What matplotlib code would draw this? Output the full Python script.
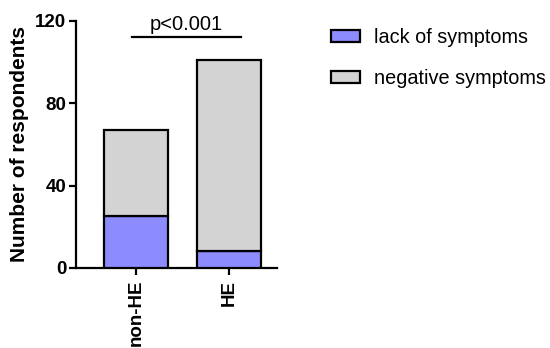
import matplotlib
matplotlib.use("Agg")
import matplotlib.pyplot as plt
from matplotlib.patches import Patch

plt.rcParams['font.family'] = ['Liberation Sans', 'DejaVu Sans']

categories = ["non-HE", "HE"]
lack = [25, 8]
negative = [42, 93]
series_labels = ["lack of symptoms", "negative symptoms"]
colors = ["#8C8CFF", "#D3D3D3"]

fig = plt.figure(figsize=(5.5, 3.48), dpi=100)
ax = fig.add_axes([0.138, 0.23, 0.366, 0.71])

x = list(range(len(categories)))
w = 0.688
ax.bar(x, lack, width=w, color=colors[0], edgecolor='black', linewidth=1.6, zorder=3)
ax.bar(x, negative, width=w, bottom=lack, color=colors[1], edgecolor='black', linewidth=1.6, zorder=3)

ax.set_xlim(-0.645, 1.516)
ax.set_ylim(0, 120)
ax.set_yticks([0, 40, 80, 120])
ax.set_xticks(x)
ax.set_xticklabels(categories, rotation=90, fontsize=13.5, fontweight='bold')
for lbl in ax.get_yticklabels():
    lbl.set_fontsize(13.5)
    lbl.set_fontweight('bold')
ax.set_ylabel("Number of respondents", fontsize=15, fontweight='bold', labelpad=4)
for s in ['top', 'right']:
    ax.spines[s].set_visible(False)
for s in ['left', 'bottom']:
    ax.spines[s].set_linewidth(1.6)
ax.tick_params(axis='both', width=1.6, length=5, direction='out')
ax.tick_params(axis='y', pad=2)

# significance bar
ax.plot([-0.04, 1.13], [112, 112], color='black', linewidth=1.6, clip_on=False)
ax.text(0.54, 113.5, "p<0.001", ha='center', va='bottom', fontsize=14.5)

handles = [Patch(facecolor=c, edgecolor='black', linewidth=1.6) for c in colors]
fig.legend(handles, series_labels, loc='upper left', bbox_to_anchor=(0.57, 0.97),
           frameon=False, fontsize=14.3, handlelength=1.45, handleheight=0.55,
           labelspacing=1.1, handletextpad=0.7)

fig.savefig("out.png", dpi=100)
